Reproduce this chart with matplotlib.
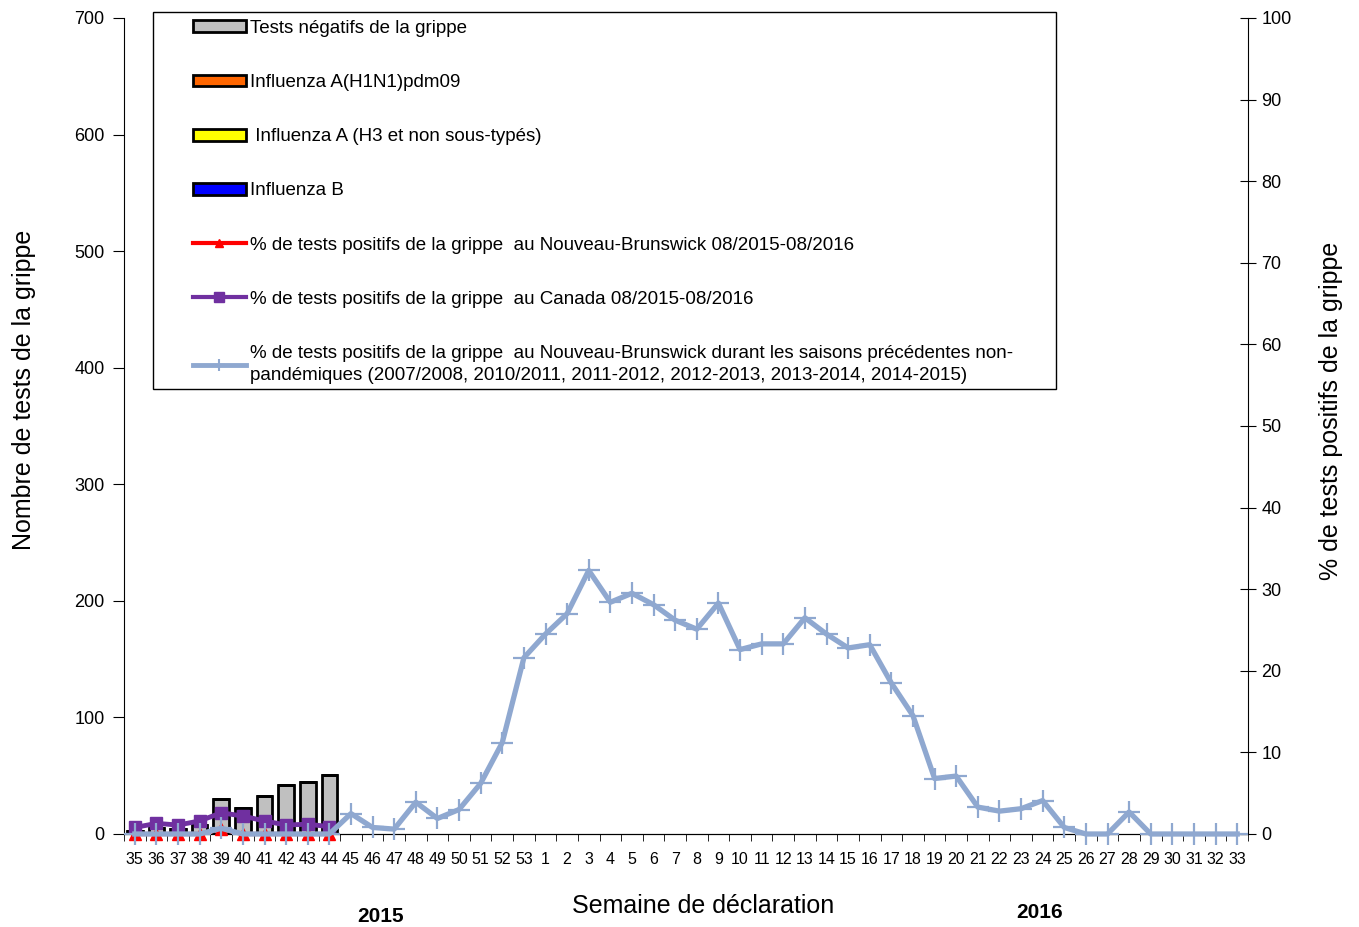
import numpy as np
import matplotlib
matplotlib.use("Agg")
import matplotlib.pyplot as plt
from matplotlib.patches import Patch, Rectangle
from matplotlib.lines import Line2D

plt.rcParams['font.family'] = ['Liberation Sans Narrow', 'Liberation Sans', 'DejaVu Sans']

weeks = [str(w) for w in range(35, 54)] + [str(w) for w in range(1, 34)]

# nombre de tests (axe gauche), semaines 35-44 seulement
negatifs = [3, 5, 4, 8, 30, 22, 33, 42, 45, 51]
h1n1 = [0, 0, 0, 0, 0, 0, 0, 0, 0, 0]
h3 = [0, 0, 0, 0, 0, 0, 0, 0, 0, 0]
infl_b = [0, 0, 0, 0, 0, 0, 0, 0, 0, 0]

# % positifs (axe droit)
pct_nb = [0, 0, 0, 0, 0.6, 0, 0, 0, 0, 0]
pct_canada = [0.8, 1.3, 1.1, 1.6, 2.6, 2.2, 1.6, 1.1, 1.2, 0.9]
pct_historique = [0, 0, 0, 0, 0.7, 0, 0, 0, 0, 0,
                  2.5, 0.8, 0.6, 3.9, 1.9, 3.0, 6.2, 11.2, 21.6,
                  24.5, 27.0, 32.3, 28.4, 29.5, 28.1, 26.2, 25.1, 28.3, 22.6,
                  23.3, 23.3, 26.5, 24.5, 22.8, 23.2, 18.5, 14.5, 6.8, 7.1,
                  3.3, 2.8, 3.1, 4.1, 0.8, 0, 0, 2.7, 0, 0, 0, 0, 0]

x = np.arange(len(weeks))
xb = x[:len(negatifs)]

W, H = 1359, 927
fig = plt.figure(figsize=(W / 100, H / 100), dpi=100)
ax = fig.add_axes([124 / W, 1 - 834 / H, (1248 - 124) / W, (834 - 18) / H])
ax2 = ax.twinx()

bw = 0.72
bottom = np.zeros(len(negatifs))
for vals, col in [(negatifs, '#C0C0C0'), (h1n1, '#FF6600'), (h3, '#FFFF00'), (infl_b, '#0000FF')]:
    v = np.array(vals, dtype=float)
    ax.bar(xb, v, bw, bottom=bottom, color=col, edgecolor='black', linewidth=2, zorder=2)
    bottom += v

ax.set_ylim(0, 700)
ax.set_yticks(range(0, 701, 100))
ax.set_xlim(-0.5, len(weeks) - 0.5)
ax.set_xticks(x)
ax.set_xticklabels(weeks, fontsize=11.5)
ax.set_xticks(np.arange(-0.5, len(weeks), 1), minor=True)
ax.tick_params(axis='x', which='major', length=0, pad=13)
ax.tick_params(axis='x', which='minor', length=5, direction='out')
ax.tick_params(axis='y', labelsize=13, length=8, direction='out', pad=6)
ax.set_ylabel('Nombre de tests de la grippe', fontsize=18)
ax.yaxis.set_label_coords(-0.0785, 0.544)
for sp in ['top', 'right']:
    ax.spines[sp].set_visible(False)

ax2.plot(xb, pct_nb, color='#FF0000', lw=3, marker='^', ms=9, clip_on=False, zorder=3)
ax2.plot(xb, pct_canada, color='#7030A0', lw=3.5, marker='s', ms=9, clip_on=False, zorder=4)
ax2.plot(x, pct_historique, color='#8FA8D0', lw=3.8, marker='+', ms=16, mew=1.6,
         clip_on=False, zorder=5)
ax2.set_ylim(0, 100)
ax2.set_yticks(range(0, 101, 10))
ax2.tick_params(axis='y', labelsize=13, length=12, direction='inout')
ax2.set_ylabel('% de tests positifs de la grippe', fontsize=18)
ax2.yaxis.set_label_coords(1.063, 0.518)
ax2.spines['top'].set_visible(False)
ax2.spines['left'].set_visible(False)

fig.text(703 / W, 1 - 906 / H, 'Semaine de déclaration', fontsize=18, ha='center', va='center')
fig.text(381 / W, 1 - 916 / H, '2015', fontsize=15, fontweight='bold', ha='center', va='center')
fig.text(1040 / W, 1 - 913 / H, '2016', fontsize=15, fontweight='bold', ha='center', va='center')

# cadre de la légende
fig.patches.append(Rectangle((153 / W, 1 - 389 / H), (1056 - 153) / W, (389 - 12) / H,
                             transform=fig.transFigure, fill=False, edgecolor='black',
                             linewidth=1, zorder=10))

handles = [
    Patch(facecolor='#C0C0C0', edgecolor='black', linewidth=2),
    Patch(facecolor='#FF6600', edgecolor='black', linewidth=2),
    Patch(facecolor='#FFFF00', edgecolor='black', linewidth=2),
    Patch(facecolor='#0000FF', edgecolor='black', linewidth=2),
    Line2D([], [], color='#FF0000', lw=3, marker='^', ms=6),
    Line2D([], [], color='#7030A0', lw=3, marker='s', ms=7),
    Line2D([], [], color='#8FA8D0', lw=3.5, marker='+', ms=8, mew=1.5),
]
labels = [
    'Tests négatifs de la grippe',
    'Influenza A(H1N1)pdm09',
    ' Influenza A (H3 et non sous-typés)',
    'Influenza B',
    '% de tests positifs de la grippe  au Nouveau-Brunswick 08/2015-08/2016',
    '% de tests positifs de la grippe  au Canada 08/2015-08/2016',
    '% de tests positifs de la grippe  au Nouveau-Brunswick durant les saisons précédentes non-\n'
    'pandémiques (2007/2008, 2010/2011, 2011-2012, 2012-2013, 2013-2014, 2014-2015)',
]
leg = ax2.legend(handles, labels, loc='upper left', bbox_to_anchor=(193 / W, 1 - 20 / H),
                 bbox_transform=fig.transFigure, borderaxespad=0, borderpad=0,
                 fontsize=13.5, frameon=False, handlelength=2.8, handleheight=0.6,
                 handletextpad=0.25, labelspacing=1.98)
for t in leg.get_texts():
    t.set_linespacing(1.4)

fig.savefig('out.png', dpi=100)
